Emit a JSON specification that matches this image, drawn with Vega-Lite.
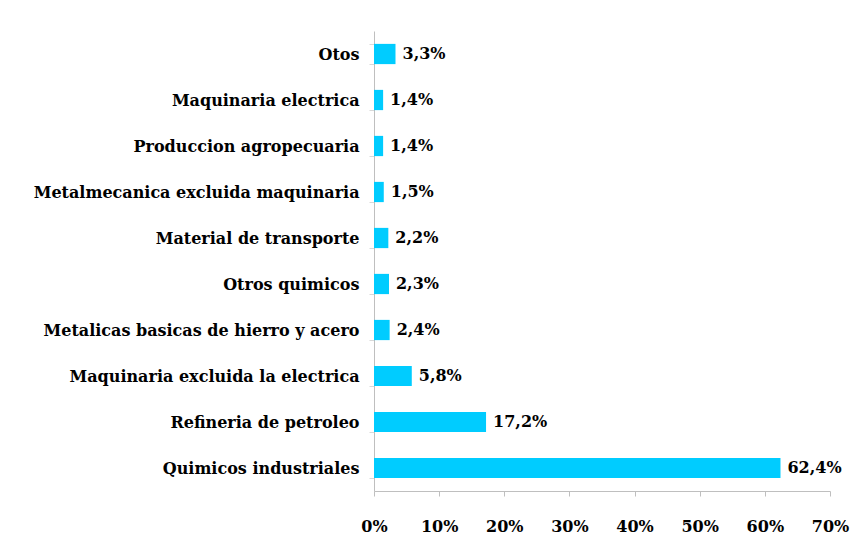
{
  "$schema": "https://vega.github.io/schema/vega-lite/v6.json",
  "width": 456,
  "height": 460,
  "autosize": {"type": "none"},
  "padding": {"left": 374, "top": 31, "right": 28, "bottom": 66},
  "background": "white",
  "config": {
    "view": {"stroke": null},
    "locale": {"number": {"decimal": ",", "thousands": ".", "grouping": [3], "currency": ["", "€"]}},
    "font": "DejaVu Serif"
  },
  "data": {"values": [
    {"cat": "Otos", "v": 0.033},
    {"cat": "Maquinaria electrica", "v": 0.014},
    {"cat": "Produccion agropecuaria", "v": 0.014},
    {"cat": "Metalmecanica excluida maquinaria", "v": 0.015},
    {"cat": "Material de transporte", "v": 0.022},
    {"cat": "Otros quimicos", "v": 0.023},
    {"cat": "Metalicas basicas de hierro y acero", "v": 0.024},
    {"cat": "Maquinaria excluida la electrica", "v": 0.058},
    {"cat": "Refineria de petroleo", "v": 0.172},
    {"cat": "Quimicos industriales", "v": 0.624}
  ]},
  "encoding": {
    "y": {"field": "cat", "type": "nominal", "sort": null,
      "scale": {"paddingInner": 0.56, "paddingOuter": 0.28},
      "axis": {"title": null, "tickBand": "extent", "domainColor": "#BFBFBF", "tickColor": "#D9D9D9", "tickSize": 5,
        "labelFont": "DejaVu Serif", "labelFontWeight": "bold", "labelFontSize": 16, "labelColor": "#000000", "labelPadding": 10, "labelLimit": 400}},
    "x": {"field": "v", "type": "quantitative",
      "scale": {"domain": [0, 0.7]},
      "axis": {"title": null, "format": ".0%", "values": [0, 0.1, 0.2, 0.3, 0.4, 0.5, 0.6, 0.7], "grid": false, "labelFlush": false,
        "domainColor": "#BFBFBF", "tickColor": "#BFBFBF", "tickSize": 5,
        "labelFont": "DejaVu Serif", "labelFontWeight": "bold", "labelFontSize": 16, "labelColor": "#000000", "labelPadding": 22}}
  },
  "layer": [
    {"mark": {"type": "bar", "color": "#00CCFF"}},
    {"mark": {"type": "text", "align": "left", "dx": 7, "font": "DejaVu Serif", "fontWeight": "bold", "fontSize": 16, "color": "#000000"},
      "encoding": {"text": {"field": "v", "type": "quantitative", "format": ".1%"}}}
  ]
}
